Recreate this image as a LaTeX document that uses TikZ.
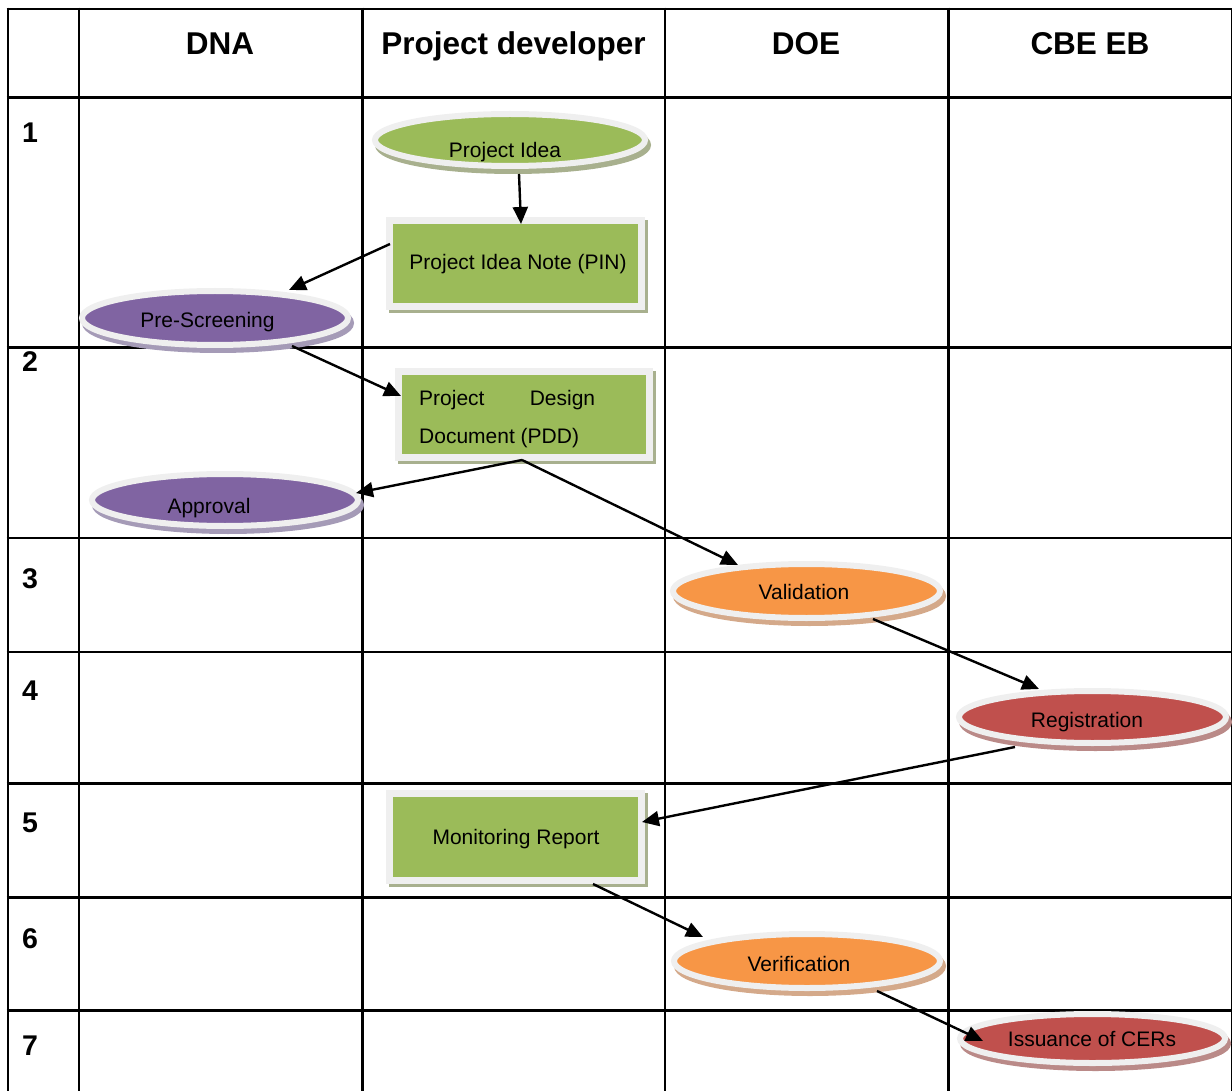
\documentclass[tikz,border=0pt]{standalone}
\usepackage{fontspec}
\setmainfont{Liberation Sans}
\usetikzlibrary{shapes.geometric,arrows.meta,calc}

% fills of the stages and their shadows
\definecolor{gfill}{HTML}{9BBB59}
\definecolor{gshade}{HTML}{A8B08E}
\definecolor{pfill}{HTML}{8064A2}
\definecolor{pshade}{HTML}{A59BB7}
\definecolor{ofill}{HTML}{F79646}
\definecolor{oshade}{HTML}{D4A98A}
\definecolor{rfill}{HTML}{C0504D}
\definecolor{rshade}{HTML}{BA8A88}
\definecolor{rim}{HTML}{EFEFEF}

\tikzset{
  gridline/.style={line width=2.6pt, black},
  oval/.style n args={2}{ellipse, inner sep=0pt, outer sep=0pt,
    minimum width=266pt, minimum height=52pt,
    fill=#1, draw=rim, line width=6pt,
    preaction={fill=#2, draw=#2, line width=6pt,
      transform canvas={xshift=3pt, yshift=-5pt}}},
  card/.style={rectangle, inner sep=0pt, outer sep=0pt,
    minimum width=252pt, minimum height=86pt,
    fill=gfill, draw=rim, line width=7pt,
    preaction={fill=gshade, draw=gshade, line width=7pt,
      transform canvas={xshift=3pt, yshift=-3pt}}},
  txt/.style={font=\fontsize{21}{25}\selectfont, inner sep=0pt, anchor=base},
  head/.style={font=\fontsize{31.5}{37}\selectfont\bfseries, inner sep=0pt, anchor=base},
  rownum/.style={font=\fontsize{28.5}{34}\selectfont\bfseries, inner sep=0pt, anchor=base west},
  flow/.style={-{Triangle[length=17pt,width=15pt]}, line width=2.4pt, black},
}

\begin{document}
\begin{tikzpicture}[x=1pt, y=-1pt]
\useasboundingbox (0,0) rectangle (1232,1091);

% table grid
\foreach \yy in {9,97.5,347.5,538,652,783.5,897.5,1010.5}
  \draw[gridline] (6.7,\yy) -- (1233,\yy);
\foreach \xx in {8,79,362.5,665,948.5,1232}
  \draw[gridline] (\xx,7.7) -- (\xx,1095);

% column heads
\node[head] (hdna) at (220,55) {DNA};
\node[head] (hpd)  at (513.5,55) {Project developer};
\node[head] (hdoe) at (806,55) {DOE};
\node[head] (hcbe) at (1090,55) {CBE EB};

% row numbers
\node[rownum] (r1) at (22,143)  {1};
\node[rownum] (r2) at (22,371)  {2};
\node[rownum] (r3) at (22,588)  {3};
\node[rownum] (r4) at (22,700)  {4};
\node[rownum] (r5) at (22,832)  {5};
\node[rownum] (r6) at (22,948)  {6};
\node[rownum] (r7) at (22,1055) {7};

% stages
\node[oval={gfill}{gshade}, minimum width=270pt] (idea) at (510,140) {};
\node[card] (pin) at (515.5,263.5) {};
\node[oval={pfill}{pshade}, minimum height=54pt] (pre) at (215,318) {};
\node[card, minimum width=251pt] (pdd) at (524,414.5) {};
\node[oval={pfill}{pshade}] (appr) at (225,500) {};
\node[oval={ofill}{oshade}, minimum width=267pt, minimum height=54pt] (valid) at (806.5,591) {};
\node[oval={rfill}{rshade}, minimum width=267pt] (reg) at (1092.5,717) {};
\node[card, minimum height=87pt] (mon) at (515.5,837) {};
\node[oval={ofill}{oshade}, minimum height=54pt] (verif) at (807,961) {};
\node[oval={rfill}{rshade}, minimum width=265pt, minimum height=49pt] (iss) at (1092.5,1038.5) {};

% stage labels
\node[txt] (tidea)  at (505,158)  {Project Idea};
\node[txt] (tpin)   at (518,270)  {Project Idea Note (PIN)};
\node[txt] (tpre)   at (207.5,328) {Pre-Screening};
\node[txt, anchor=base west] (tpdda) at (419,406) {\makebox[176pt][s]{Project Design}};
\node[txt, anchor=base west] (tpddb) at (419,443) {Document (PDD)};
\node[txt] (tappr)  at (209,513)  {Approval};
\node[txt] (tvalid) at (804,599)  {Validation};
\node[txt] (treg)   at (1087,727) {Registration};
\node[txt] (tmon)   at (516,844)  {Monitoring Report};
\node[txt] (tverif) at (799,971)  {Verification};
\node[txt] (tiss)   at (1092,1046) {Issuance of CERs};

% flow between stages
\draw[flow] ($(idea.south)+(9,8)$) -- ($(pin.north)+(5.5,3.5)$);
\draw[flow] ($(pin.west)+(0.5,-19.5)$) -- ($(pre.north)+(74,-1)$);
\draw[flow] ($(pre.south)+(77,1)$) -- ($(pdd.west)+(2.5,-18.5)$);
\draw[flow] ($(pdd.south)+(-2,2.5)$) -- ($(appr.east)+(-2,-7)$);
\draw[flow] ($(pdd.south)+(-2,2.5)$) -- ($(valid.north)+(-68.5,1)$);
\draw[flow] ($(valid.south)+(66.5,1)$) -- ($(reg.north)+(-53.5,-2)$);
\draw[flow] ($(reg.south)+(-77.5,4)$) -- ($(mon.east)+(0.5,-15)$);
\draw[flow] ($(mon.south)+(77.5,3.5)$) -- ($(verif.north)+(-104,3)$);
\draw[flow] ($(verif.south)+(70,3)$) -- ($(iss.west)+(23,2.5)$);
\end{tikzpicture}
\end{document}
